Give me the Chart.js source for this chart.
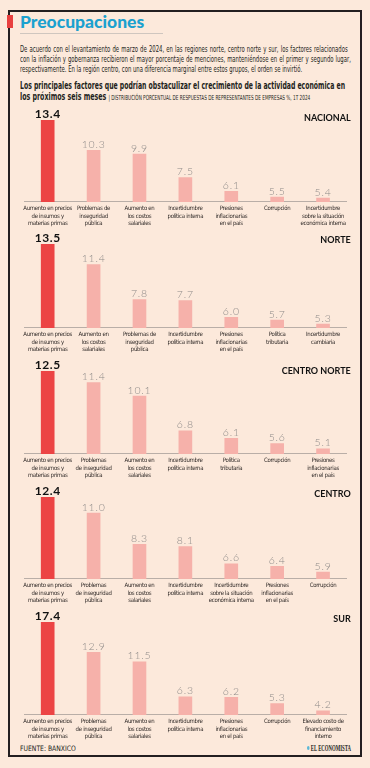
<!DOCTYPE html>
<html lang="es">
<head>
<meta charset="utf-8">
<script src="https://cdn.jsdelivr.net/npm/chart.js@4.4.1/dist/chart.umd.min.js"></script>
<style>
  html, body { margin: 0; padding: 0; }
  body { width: 370px; height: 768px; background: #fce9db; position: relative; overflow: hidden;
         font-family: "Liberation Sans Narrow", "DejaVu Sans Condensed", "Liberation Sans", sans-serif; color: #231f20; }
  .frame { position: absolute; left: 8px; top: 10px; width: 354px; height: 747px; box-sizing: border-box;
           border: 2px solid #231f20; }
  .tab { position: absolute; left: 7px; top: 15px; width: 6px; height: 13px; background: #e8403f; }
  .title { position: absolute; left: 20px; top: 12px; font-family: Lato, sans-serif; font-weight: 900;
           font-size: 17.5px; line-height: 20px; color: #1ba1cf; }
  .rule { position: absolute; left: 20px; top: 33px; width: 143px; height: 1px; background: #cfc6bf; }
  .line { position: absolute; left: 20px; white-space: nowrap; transform-origin: 0 50%; }
  .body-l { font-size: 9px; line-height: 9px; }
  .sub-l { font-size: 10.5px; line-height: 11px; font-weight: bold; }
  .sub-l .small { font-weight: normal; font-size: 7px; }
  .foot { position: absolute; top: 744px; font-size: 7.5px; line-height: 9px; white-space: nowrap; transform-origin: 0 50%; }
  .brand { font-family: "Liberation Serif", serif; font-weight: bold; }
  .dot { display: inline-block; width: 4px; height: 4px; border-radius: 50%; background: #5bb8d6; margin-right: 2px; vertical-align: 1px; }
  canvas { position: absolute; left: 10px; }
</style>
</head>
<body>
<div class="frame"></div>
<div class="tab"></div>
<div class="title">Preocupaciones</div>
<div class="rule"></div>

<div class="line body-l" style="top:45px" data-w="328" data-justify="1">De acuerdo con el levantamiento de marzo de 2024, en las regiones norte, centro norte y sur, los factores relacionados</div>
<div class="line body-l" style="top:55px" data-w="331" data-justify="1">con la inflación y gobernanza recibieron el mayor porcentaje de menciones, manteniéndose en el primer y segundo lugar,</div>
<div class="line body-l" style="top:65px" data-w="282">respectivamente. En la región centro, con una diferencia marginal entre estos grupos, el orden se invirtió.</div>

<div class="line sub-l" style="top:79.5px" data-w="325">Los principales factores que podrían obstaculizar el crecimiento de la actividad económica en</div>
<div class="line sub-l" style="top:91px" data-w="290">los próximos seis meses <span class="small">| DISTRIBUCIÓN PORCENTUAL DE RESPUESTAS DE REPRESENTANTES DE EMPRESAS %, 1T 2024</span></div>

<div class="foot" style="left:20px" data-w="56">FUENTE: BANXICO</div>
<div class="foot brand" style="left:307px" data-w="44"><span class="dot"></span>EL ECONOMISTA</div>

<script>
// Datos por región
const nacionalLabels = [
  ['Aumento en precios', 'de insumos y', 'materias primas'],
  ['Problemas de', 'inseguridad', 'pública'],
  ['Aumento en', 'los costos', 'salariales'],
  ['Incertidumbre', 'política interna'],
  ['Presiones', 'inflacionarias', 'en el país'],
  ['Corrupción'],
  ['Incertidumbre', 'sobre la situación', 'económica interna']
];
const nacionalValues = [13.4, 10.3, 9.9, 7.5, 6.1, 5.5, 5.4];

const norteLabels = [
  ['Aumento en precios', 'de insumos y', 'materias primas'],
  ['Aumento en', 'los costos', 'salariales'],
  ['Problemas de', 'inseguridad', 'pública'],
  ['Incertidumbre', 'política interna'],
  ['Presiones', 'inflacionarias', 'en el país'],
  ['Política', 'tributaria'],
  ['Incertidumbre', 'cambiaria']
];
const norteValues = [13.5, 11.4, 7.8, 7.7, 6.0, 5.7, 5.3];

const centroNorteLabels = [
  ['Aumento en precios', 'de insumos y', 'materias primas'],
  ['Problemas', 'de inseguridad', 'pública'],
  ['Aumento en', 'los costos', 'salariales'],
  ['Incertidumbre', 'política interna'],
  ['Política', 'tributaria'],
  ['Corrupción'],
  ['Presiones', 'inflacionarias', 'en el país']
];
const centroNorteValues = [12.5, 11.4, 10.1, 6.8, 6.1, 5.6, 5.1];

const centroLabels = [
  ['Aumento en precios', 'de insumos y', 'materias primas'],
  ['Problemas', 'de inseguridad', 'pública'],
  ['Aumento en', 'los costos', 'salariales'],
  ['Incertidumbre', 'política interna'],
  ['Incertidumbre', 'sobre la situación', 'económica interna'],
  ['Presiones', 'inflacionarias', 'en el país'],
  ['Corrupción']
];
const centroValues = [12.4, 11.0, 8.3, 8.1, 6.6, 6.4, 5.9];

const surLabels = [
  ['Aumento en precios', 'de insumos y', 'materias primas'],
  ['Problemas', 'de inseguridad', 'pública'],
  ['Aumento en', 'los costos', 'salariales'],
  ['Incertidumbre', 'política interna'],
  ['Presiones', 'inflacionarias', 'en el país'],
  ['Corrupción'],
  ['Elevado costo de', 'financiamiento', 'interno']
];
const surValues = [17.4, 12.9, 11.5, 6.3, 6.2, 5.3, 4.2];

const RED = '#ec4444';
const PINK = '#f6b1aa';
const LABEL_FONT = '"Liberation Sans Narrow", "DejaVu Sans Condensed", sans-serif';

// Texto introductorio: misma compresión para los tres renglones, los dos primeros justificados
const bodyLines = [...document.querySelectorAll('.body-l')];
const squeeze = parseFloat(bodyLines[2].dataset.w) / bodyLines[2].scrollWidth;
bodyLines.forEach(el => {
  if (el.dataset.justify) {
    const spaces = (el.textContent.match(/ /g) || []).length;
    const extra = parseFloat(el.dataset.w) / squeeze - el.scrollWidth;
    el.style.wordSpacing = (extra / spaces) + 'px';
  }
  el.style.transform = `scaleX(${squeeze})`;
});

// Resto de renglones: se ajustan a su ancho
document.querySelectorAll('.sub-l, .foot').forEach(el => {
  el.style.transform = `scaleX(${parseFloat(el.dataset.w) / el.scrollWidth})`;
});

// Valores encima de cada barra y nombre de la región
const barValues = {
  id: 'barValues',
  beforeDraw(chart) {
    chart.ctx.letterSpacing = '-0.3px';
  },
  afterDatasetsDraw(chart, args, opts) {
    const ctx = chart.ctx;
    const data = chart.data.datasets[0].data;
    chart.getDatasetMeta(0).data.forEach((bar, i) => {
      ctx.save();
      ctx.textAlign = 'center';
      ctx.textBaseline = 'alphabetic';
      if (i === 0) {
        ctx.font = 'bold 12px Lato, sans-serif';
        ctx.letterSpacing = '0.6px';
        ctx.fillStyle = '#111';
      } else {
        ctx.font = '300 10.5px Lato, sans-serif';
        ctx.letterSpacing = '0.8px';
        ctx.fillStyle = '#8e8a88';
      }
      ctx.fillText(data[i].toFixed(1), bar.x, bar.y - 2.5);
      ctx.restore();
    });
    ctx.save();
    ctx.letterSpacing = '0px';
    ctx.font = 'bold 9px Lato, sans-serif';
    ctx.fillStyle = '#111';
    ctx.textAlign = 'right';
    ctx.textBaseline = 'alphabetic';
    ctx.fillText(opts.region, 340.7, chart.chartArea.top + opts.shift);
    ctx.restore();
  },
  afterDraw(chart) {
    chart.ctx.letterSpacing = '0px';
  }
};

function buildChart(region, labels, values, yMin, top, plotHeight, shift) {
  const canvas = document.createElement('canvas');
  canvas.width = 350;
  canvas.height = 16 + plotHeight + 27;
  canvas.style.top = (top - 16) + 'px';
  document.body.appendChild(canvas);

  return new Chart(canvas, {
    type: 'bar',
    data: {
      labels: labels,
      datasets: [{
        data: values,
        backgroundColor: values.map((v, i) => i === 0 ? RED : PINK),
        barThickness: 13,
        borderWidth: 0
      }]
    },
    options: {
      responsive: false,
      animation: false,
      devicePixelRatio: 1,
      layout: { padding: { top: 16, left: 14.75, right: 14, bottom: 0 } },
      plugins: {
        legend: { display: false },
        tooltip: { enabled: false },
        barValues: { region: region, shift: shift }
      },
      scales: {
        x: {
          grid: { display: false, drawTicks: false },
          border: { display: true, color: '#b9aea7', width: 1 },
          ticks: {
            color: '#2e2826',
            autoSkip: false,
            maxRotation: 0,
            padding: 2.5,
            font: { family: LABEL_FONT, size: 6, lineHeight: 1.28 }
          }
        },
        y: { display: false, min: yMin, max: Math.max(...values) }
      }
    },
    plugins: [barValues]
  });
}

buildChart('NACIONAL', nacionalLabels, nacionalValues, 5.0, 119.5, 83, 1);
buildChart('NORTE', norteLabels, norteValues, 4.9, 244.3, 85, -1.5);
buildChart('CENTRO NORTE', centroNorteLabels, centroNorteValues, 4.6, 370.7, 84.3, 2.5);
buildChart('CENTRO', centroLabels, centroValues, 5.3, 496.7, 83.3, 0);
buildChart('SUR', surLabels, surValues, 3.6, 622.3, 94.4, 0);
</script>
</body>
</html>
